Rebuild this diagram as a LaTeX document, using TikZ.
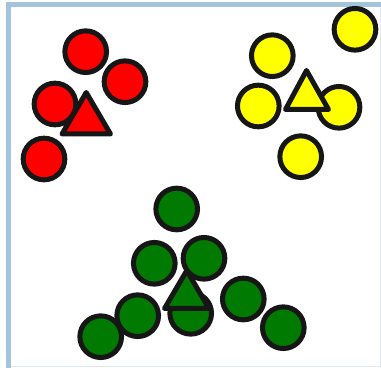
\documentclass[tikz,border=0pt]{standalone}
\usepackage{tikz}
\usetikzlibrary{positioning}
\definecolor{fB}{RGB}{164,195,220}
\definecolor{fL}{RGB}{222,232,242}
\definecolor{cR}{RGB}{255,0,0}
\definecolor{cY}{RGB}{255,255,0}
\definecolor{cG}{RGB}{0,122,0}
\definecolor{cK}{RGB}{22,22,22}
\tikzset{
  ball/.style={circle, draw=cK, line width=0.15cm, minimum size=1.25cm, inner sep=0pt},
  tri/.style={draw=cK, line width=0.15cm, line join=round}
}

\begin{document}
\begin{tikzpicture}[x=0.03cm, y=-0.03cm]
    \useasboundingbox (0,0) rectangle (381,368);
    % frame
    \draw[fL, line width=0.03cm] (8,366.5) -- (380,366.5) -- (380,4);
    \draw[fB, line width=0.15cm] (8.5,368) -- (8.5,4.5) -- (381,4.5);

    % red group
    \node[ball, fill=cR] (r1) at (85.7,51.7) {};
    \node[ball, fill=cR] (r2) at (125,81.7) {};
    \node[ball, fill=cR] (r3) at (55,104) {};
    \node[ball, fill=cR] (r4) at (44,159) {};
    \draw[tri, fill=cR] (86.2,92.5) -- (110.5,134) -- (62,134) -- cycle;

    % yellow group
    \node[ball, fill=cY] (y1) at (272.3,55.7) {};
    \node[ball, fill=cY] (y2) at (355,29.3) {};
    \node[ball, fill=cY] (y3) at (258.3,106) {};
    \node[ball, fill=cY] (y4) at (339,107.3) {};
    \node[ball, fill=cY] (y5) at (300.7,156.7) {};
    \draw[tri, fill=cY] (306.5,70.5) -- (328.5,109.5) -- (285.5,109.5) -- cycle;

    % green group
    \node[ball, fill=cG] (g1) at (176.7,209) {};
    \node[ball, fill=cG] (g2) at (154.3,263.3) {};
    \node[ball, fill=cG] (g3) at (204,258.3) {};
    \node[ball, fill=cG] (g4) at (100.7,336.7) {};
    \node[ball, fill=cG] (g5) at (137.7,315.7) {};
    \node[ball, fill=cG] (g6) at (190.7,313.3) {};
    \node[ball, fill=cG] (g7) at (243.3,299) {};
    \node[ball, fill=cG] (g8) at (283.3,327.7) {};
    \draw[tri, fill=cG] (186.8,270.5) -- (209,308.5) -- (164.5,308.5) -- cycle;
\end{tikzpicture}
\end{document}
